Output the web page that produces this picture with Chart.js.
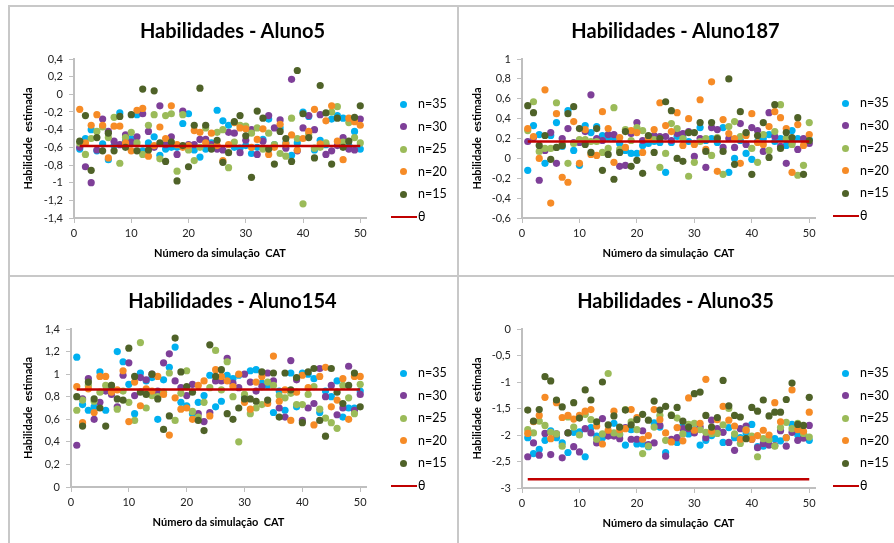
<!DOCTYPE html>
<html>
<head>
    <meta charset="utf-8">
    <title>Habilidades estimadas</title>
    <style>
        body { margin: 0; background: #fff; font-family: Lato, 'Liberation Sans', sans-serif; }
        #wrap { position: relative; width: 894px; height: 543px; overflow: hidden; background: #fff; }
        .panel { position: absolute; }
        .panel canvas { position: absolute; left: 0; top: 0; }
        .ptitle { position: absolute; left: 0; width: 100%; text-align: center; font-weight: bold; font-size: 20px; color: #000; line-height: 24px; }
        .lg { position: absolute; font-size: 12.5px; color: #000; white-space: nowrap; line-height: 14px; }
        .dot { position: absolute; width: 7px; height: 7px; border-radius: 50%; }
        .ln { position: absolute; height: 2px; }
        .sep { position: absolute; background: #c8c8c8; }
    </style>
    <script src="https://cdn.jsdelivr.net/npm/chart.js"></script>
</head>
<body>
<div id="wrap"></div>
<script>
    // simulações CAT (eixo x)
    const simulacoes = [1,2,3,4,5,6,7,8,9,10,11,12,13,14,15,16,17,18,19,20,21,22,23,24,25,
                        26,27,28,29,30,31,32,33,34,35,36,37,38,39,40,41,42,43,44,45,46,47,48,49,50];
    const xTicks = [0, 10, 20, 30, 40, 50];

    const seriesNames = ['n=35', 'n=30', 'n=25', 'n=20', 'n=15'];
    const thetaLabel = 'θ';
    const xTitle = 'Número da simulação  CAT';
    const yTitle = 'Habilidade  estimada';

    // Aluno5
    const a5_n35 = [-0.62,-0.50,-0.40,-0.64,-0.56,-0.74,-0.58,-0.21,-0.53,-0.50,-0.23,-0.64,-0.55,-0.48,-0.69,-0.62,-0.60,-0.60,-0.33,-0.22,-0.63,-0.71,-0.62,-0.55,-0.18,-0.30,-0.35,-0.60,-0.61,-0.58,-0.67,-0.60,-0.51,-0.28,-0.57,-0.38,-0.55,-0.69,-0.55,-0.20,-0.25,-0.63,-0.52,-0.57,-0.28,-0.24,-0.27,-0.58,-0.42,-0.62];
    const a5_n30 = [-0.60,-0.82,-1.00,-0.63,-0.28,-0.42,-0.53,-0.57,-0.46,-0.54,-0.48,-0.22,-0.42,-0.60,-0.13,-0.57,-0.48,-0.68,-0.19,-0.57,-0.57,-0.51,-0.51,-0.57,-0.62,-0.63,-0.43,-0.44,-0.66,-0.52,-0.40,-0.68,-0.53,-0.24,-0.38,-0.29,-0.61,0.17,-0.64,-0.38,-0.24,-0.40,-0.23,-0.68,-0.64,-0.58,-0.49,-0.62,-0.63,-0.28];
    const a5_n25 = [-0.55,-0.68,-0.50,-0.42,-0.37,-0.49,-0.26,-0.78,-0.49,-0.43,-0.55,-0.68,-0.35,-0.23,-0.73,-0.24,-0.22,-0.87,-0.23,-0.63,-0.75,-0.60,-0.38,-0.60,-0.43,-0.40,-0.83,-0.54,-0.35,-0.36,-0.44,-0.38,-0.62,-0.44,-0.57,-0.67,-0.70,-0.27,-0.50,-1.24,-0.45,-0.61,-0.60,-0.55,-0.20,-0.14,-0.54,-0.32,-0.49,-0.55];
    const a5_n20 = [-0.17,-0.55,-0.35,-0.23,-0.35,-0.72,-0.36,-0.36,-0.55,-0.64,-0.18,-0.16,-0.70,-0.58,-0.37,-0.50,-0.13,-0.57,-0.60,-0.58,-0.41,-0.43,-0.55,-0.44,-0.58,-0.75,-0.57,-0.32,-0.38,-0.39,-0.60,-0.51,-0.39,-0.68,-0.60,-0.34,-0.56,-0.46,-0.63,-0.50,-0.42,-0.17,-0.56,-0.30,-0.13,-0.53,-0.74,-0.27,-0.31,-0.35];
    const a5_n15 = [-0.53,-0.24,-0.86,-0.49,-0.64,-0.44,-0.64,-0.25,-0.60,-0.23,-0.64,0.06,-0.63,0.04,-0.55,-0.76,-0.54,-0.98,-0.58,-0.82,-0.35,0.07,-0.35,-0.62,-0.52,-0.77,-0.66,-0.31,-0.24,-0.47,-0.94,-0.19,-0.27,-0.62,-0.79,-0.42,-0.50,-0.76,0.27,-0.22,-0.49,-0.72,0.10,-0.21,-0.79,-0.27,-0.60,-0.53,-0.26,-0.13];
    const theta5 = -0.585;
    const yTicks5 = [-1.4, -1.2, -1, -0.8, -0.6, -0.4, -0.2, 0, 0.2, 0.4];

    // Aluno187
    const a187_n35 = [-0.12,0.33,0.24,-0.05,0.23,0.36,0.12,0.48,0.08,-0.07,0.33,0.26,0.32,0.23,0.21,0.21,0.15,0.08,0.05,0.05,0.13,0.15,0.17,0.16,-0.14,0.16,0.22,0.21,0.17,0.15,0.31,0.18,0.20,0.16,0.31,-0.14,0.00,0.18,0.05,-0.01,0.17,0.20,0.24,0.17,0.20,0.13,0.28,0.20,0.19,0.19];
    const a187_n30 = [0.17,0.21,-0.22,0.08,0.26,-0.05,0.20,0.30,0.16,0.16,0.27,0.64,0.20,0.18,0.24,0.24,-0.08,-0.07,0.25,0.36,0.18,0.20,0.23,0.22,0.22,0.18,0.25,0.25,0.27,0.02,0.20,-0.09,0.31,0.29,0.11,0.20,0.11,0.35,0.14,0.31,0.28,0.07,0.46,0.22,0.12,-0.05,0.16,0.09,0.20,0.15];
    const a187_n25 = [0.28,0.57,0.07,0.10,0.10,0.56,0.15,-0.05,0.15,0.19,0.19,0.17,0.17,0.06,0.10,0.51,0.09,0.29,0.18,0.31,0.28,0.21,0.19,-0.09,0.05,0.35,0.30,0.20,-0.18,-0.04,0.17,0.20,0.03,0.21,-0.16,0.32,0.37,0.22,0.25,0.10,-0.04,0.24,0.08,0.27,0.54,0.20,0.14,-0.17,-0.07,0.36];
    const a187_n20 = [0.30,0.22,0.00,0.69,-0.45,0.45,-0.19,-0.24,0.37,-0.05,0.29,0.04,0.03,0.47,0.30,-0.04,0.21,0.11,0.28,0.26,0.06,0.20,0.29,0.56,0.33,0.27,0.46,0.13,0.40,0.14,0.59,0.09,0.77,-0.13,0.39,0.25,0.20,-0.05,0.23,0.45,0.16,0.14,0.32,0.47,0.41,0.30,-0.14,0.34,0.13,0.24];
    const a187_n15 = [0.53,0.46,0.13,0.23,-0.01,0.11,0.13,0.45,0.52,0.30,0.14,0.06,0.30,-0.12,0.04,-0.21,0.06,0.27,-0.08,-0.02,-0.15,0.23,0.06,0.20,0.57,0.48,0.00,-0.03,0.26,0.26,0.36,0.07,0.36,0.20,0.07,0.80,-0.06,0.47,0.26,-0.16,0.23,0.36,0.01,0.54,0.10,0.26,0.21,0.41,-0.16,0.18];
    const theta187 = 0.17;
    const yTicks187 = [-0.6, -0.4, -0.2, 0, 0.2, 0.4, 0.6, 0.8, 1];

    // Aluno154
    const a154_n35 = [1.15,0.73,0.68,0.71,1.02,0.68,0.88,1.20,1.11,0.91,0.65,1.01,0.94,0.97,0.60,0.95,1.06,1.24,0.75,0.72,0.65,0.75,0.81,0.99,0.71,0.76,0.99,0.96,0.99,0.80,1.03,1.04,0.92,0.90,0.66,0.85,0.68,1.01,0.71,1.01,1.00,0.96,0.66,0.85,0.80,0.94,0.62,0.70,0.70,0.85];
    const a154_n30 = [0.37,0.78,0.96,0.60,0.75,0.85,0.82,0.71,0.99,1.10,0.81,0.97,0.95,1.00,0.85,1.10,1.18,0.94,0.88,0.81,0.91,0.65,0.58,0.66,0.94,0.94,1.14,0.92,0.88,1.00,0.93,0.85,0.89,1.01,0.94,0.70,0.62,1.12,0.95,0.59,0.70,0.74,1.05,0.80,0.90,0.64,0.70,1.07,0.68,0.82];
    const a154_n25 = [0.68,0.77,0.90,0.76,0.84,0.90,0.90,0.69,0.85,0.75,0.59,1.28,0.70,0.81,0.80,0.84,1.01,0.59,0.83,1.03,0.67,0.62,0.75,0.88,1.21,0.86,1.11,0.80,0.40,0.82,0.65,0.70,0.73,0.93,0.90,0.81,0.79,0.83,0.73,0.73,0.82,0.89,0.69,0.61,0.57,0.52,0.90,0.79,0.65,0.91];
    const a154_n20 = [0.89,0.57,0.87,0.66,0.98,0.98,0.84,0.86,1.03,0.58,0.93,0.72,0.87,0.85,0.98,0.82,0.46,0.79,0.69,0.70,0.60,0.90,0.94,0.63,1.04,0.98,0.94,0.89,1.00,0.75,0.69,0.93,0.98,0.74,1.16,0.76,0.86,0.59,0.84,0.99,0.88,0.55,0.98,1.06,0.71,0.77,0.96,0.60,0.98,0.98];
    const a154_n15 = [0.80,0.54,0.93,0.78,0.70,0.54,0.90,0.78,0.77,1.23,0.98,0.84,0.82,1.00,0.78,0.51,0.63,1.32,1.02,0.89,0.84,0.59,0.50,1.26,0.98,1.04,0.65,0.60,0.70,0.78,0.78,0.76,1.02,0.77,1.01,0.62,1.01,0.86,0.97,0.57,1.02,1.05,0.59,0.45,1.05,0.84,0.74,0.90,1.01,0.71];
    const theta154 = 0.865;
    const yTicks154 = [0, 0.2, 0.4, 0.6, 0.8, 1, 1.2, 1.4];

    // Aluno35
    const a35_n35 = [-2.05,-2.35,-2.27,-2.10,-1.92,-2.05,-2.15,-2.33,-1.95,-1.94,-2.41,-1.86,-2.02,-2.05,-1.95,-1.78,-2.00,-2.19,-1.90,-2.17,-2.17,-2.22,-1.77,-1.85,-2.33,-2.11,-2.14,-1.83,-1.98,-1.90,-2.19,-2.10,-2.01,-1.95,-2.14,-1.86,-2.05,-2.05,-1.96,-1.80,-2.22,-2.21,-2.10,-2.07,-2.11,-2.05,-1.80,-2.00,-1.97,-2.10];
    const a35_n30 = [-2.41,-2.15,-2.38,-1.97,-2.37,-1.98,-2.43,-1.96,-2.22,-2.32,-1.88,-1.96,-2.15,-1.69,-2.02,-2.02,-2.07,-1.86,-2.08,-2.08,-1.92,-2.18,-2.15,-1.82,-2.40,-2.08,-2.05,-1.88,-1.88,-1.96,-1.85,-2.05,-1.72,-1.88,-1.95,-2.14,-2.29,-1.88,-1.83,-2.08,-2.24,-2.16,-2.19,-2.20,-1.92,-2.21,-1.95,-2.10,-2.06,-1.82];
    const a35_n25 = [-1.90,-1.96,-1.74,-1.82,-1.95,-1.98,-2.21,-1.66,-1.85,-2.00,-1.61,-1.71,-2.08,-1.98,-0.84,-1.96,-1.98,-1.52,-1.75,-1.90,-2.35,-2.21,-1.85,-1.63,-2.10,-1.62,-1.68,-1.98,-1.80,-1.78,-1.90,-1.95,-1.97,-1.97,-1.81,-1.50,-1.98,-2.16,-1.90,-2.02,-2.41,-2.07,-2.09,-2.21,-1.86,-1.76,-1.88,-1.78,-1.97,-2.04];
    const a35_n20 = [-1.97,-1.75,-1.63,-1.29,-2.07,-1.39,-1.67,-1.63,-1.70,-1.63,-1.55,-1.52,-1.83,-2.17,-1.91,-1.55,-1.90,-1.88,-1.52,-1.67,-2.08,-2.01,-1.52,-1.71,-1.96,-2.13,-1.86,-2.11,-1.30,-1.91,-1.78,-0.95,-1.93,-1.71,-1.46,-1.72,-1.83,-2.08,-1.91,-2.08,-2.01,-1.91,-2.00,-1.39,-1.75,-2.05,-1.15,-1.90,-1.93,-1.57];
    const a35_n15 = [-1.53,-1.74,-1.52,-0.90,-0.98,-1.34,-1.47,-1.96,-1.39,-1.68,-1.15,-1.34,-1.75,-1.00,-1.81,-1.64,-1.85,-1.53,-1.81,-1.71,-1.61,-1.72,-1.36,-1.53,-1.46,-1.63,-1.48,-1.74,-1.85,-1.22,-1.19,-1.63,-1.85,-1.67,-0.97,-1.45,-1.63,-1.66,-2.07,-1.48,-1.55,-1.34,-1.64,-1.57,-1.57,-1.33,-1.02,-1.80,-1.82,-1.29];
    const theta35 = -2.835;
    const yTicks35 = [-3, -2.5, -2, -1.5, -1, -0.5, 0];

    const colors = ['#00B0F0', '#7E3F98', '#9BBB59', '#F68B26', '#4F6228'];
    const thetaColor = '#C00000';
    const fontFamily = "Lato, 'Liberation Sans', sans-serif";

    const panels = [
        { title: 'Habilidades - Aluno5', series: [a5_n35, a5_n30, a5_n25, a5_n20, a5_n15], theta: theta5, yTicks: yTicks5,
          box: { left: 8, top: 5, w: 449, h: 271 }, area: { left: 66, top: 54, right: 358, bottom: 213 },
          titleY: 13, legendX: 395, legendY: 99 },
        { title: 'Habilidades - Aluno187', series: [a187_n35, a187_n30, a187_n25, a187_n20, a187_n15], theta: theta187, yTicks: yTicks187,
          box: { left: 457, top: 5, w: 437, h: 271 }, area: { left: 65, top: 54, right: 358, bottom: 213 },
          titleY: 13, legendX: 388, legendY: 98 },
        { title: 'Habilidades - Aluno154', series: [a154_n35, a154_n30, a154_n25, a154_n20, a154_n15], theta: theta154, yTicks: yTicks154,
          box: { left: 8, top: 276, w: 449, h: 267 }, area: { left: 63, top: 53, right: 358, bottom: 211 },
          titleY: 12, legendX: 395, legendY: 97 },
        { title: 'Habilidades - Aluno35', series: [a35_n35, a35_n30, a35_n25, a35_n20, a35_n15], theta: theta35, yTicks: yTicks35,
          box: { left: 457, top: 276, w: 437, h: 267 }, area: { left: 65, top: 53, right: 358, bottom: 212 },
          titleY: 12, legendX: 388, legendY: 97 }
    ];

    const wrap = document.getElementById('wrap');

    // linhas de separação entre os gráficos
    [[8, 5, 2, 538], [457, 5, 2, 538], [8, 5, 886, 2], [8, 275, 886, 2]].forEach(function (r) {
        const d = document.createElement('div');
        d.className = 'sep';
        d.style.left = r[0] + 'px'; d.style.top = r[1] + 'px';
        d.style.width = r[2] + 'px'; d.style.height = r[3] + 'px';
        wrap.appendChild(d);
    });

    function fmtTick(v) {
        return String(Math.round(v * 10) / 10).replace('.', ',');
    }

    panels.forEach(function (p) {
        const div = document.createElement('div');
        div.className = 'panel';
        div.style.left = p.box.left + 'px';
        div.style.top = p.box.top + 'px';
        div.style.width = p.box.w + 'px';
        div.style.height = p.box.h + 'px';
        wrap.appendChild(div);

        const canvas = document.createElement('canvas');
        canvas.width = p.box.w;
        canvas.height = p.box.h;
        div.appendChild(canvas);

        const t = document.createElement('div');
        t.className = 'ptitle';
        t.style.top = p.titleY + 'px';
        t.textContent = p.title;
        div.appendChild(t);

        // legenda
        seriesNames.forEach(function (name, i) {
            const y = p.legendY + i * 22.5;
            const dot = document.createElement('div');
            dot.className = 'dot';
            dot.style.background = colors[i];
            dot.style.left = (p.legendX - 3.5) + 'px';
            dot.style.top = (y - 3.5) + 'px';
            div.appendChild(dot);
            const lab = document.createElement('div');
            lab.className = 'lg';
            lab.style.left = (p.legendX + 15) + 'px';
            lab.style.top = (y - 7) + 'px';
            lab.textContent = name;
            div.appendChild(lab);
        });
        const ty = p.legendY + 5 * 22.5;
        const ln = document.createElement('div');
        ln.className = 'ln';
        ln.style.background = thetaColor;
        ln.style.left = (p.legendX - 12) + 'px';
        ln.style.width = '26px';
        ln.style.top = (ty - 1) + 'px';
        div.appendChild(ln);
        const tl = document.createElement('div');
        tl.className = 'lg';
        tl.style.left = (p.legendX + 15) + 'px';
        tl.style.top = (ty - 7) + 'px';
        tl.textContent = thetaLabel;
        div.appendChild(tl);

        const xH = 50;
        const datasets = p.series.map(function (vals, i) {
            return {
                type: 'scatter',
                label: seriesNames[i],
                data: simulacoes.map(function (s, k) { return { x: s, y: vals[k] }; }),
                backgroundColor: colors[i],
                borderWidth: 0,
                pointRadius: 3.6,
                order: 5 - i
            };
        });
        datasets.push({
            type: 'line',
            label: thetaLabel,
            data: [{ x: simulacoes[0], y: p.theta }, { x: simulacoes[simulacoes.length - 1], y: p.theta }],
            borderColor: thetaColor,
            borderWidth: 2.5,
            pointRadius: 0,
            fill: false,
            order: 0
        });

        new Chart(canvas.getContext('2d'), {
            type: 'scatter',
            data: { datasets: datasets },
            options: {
                responsive: false,
                animation: false,
                events: [],
                layout: {
                    padding: { left: 0, top: p.area.top, right: p.box.w - p.area.right, bottom: p.box.h - p.area.bottom - xH }
                },
                plugins: { legend: { display: false }, tooltip: { enabled: false } },
                scales: {
                    x: {
                        type: 'linear',
                        min: 0,
                        max: 51,
                        afterBuildTicks: function (s) { s.ticks = xTicks.map(function (v) { return { value: v }; }); },
                        afterFit: function (s) { s.height = xH; },
                        grid: { drawOnChartArea: false, tickLength: 5, color: '#bfbfbf' },
                        border: { color: '#bfbfbf', width: 2 },
                        ticks: { autoSkip: false, maxRotation: 0, padding: 4, color: '#222', font: { family: fontFamily, size: 11 } },
                        title: { display: true, text: xTitle, color: '#000', font: { family: fontFamily, size: 11, weight: 'bold' }, padding: { top: 0, bottom: 8 } }
                    },
                    y: {
                        type: 'linear',
                        min: p.yTicks[0],
                        max: p.yTicks[p.yTicks.length - 1],
                        afterBuildTicks: function (s) { s.ticks = p.yTicks.map(function (v) { return { value: v }; }); },
                        afterFit: function (s) { s.width = p.area.left; },
                        grid: { drawOnChartArea: false, tickLength: 5, color: '#bfbfbf' },
                        border: { color: '#bfbfbf', width: 2 },
                        ticks: { autoSkip: false, padding: 6, color: '#222', font: { family: fontFamily, size: 11 }, callback: fmtTick },
                        title: { display: true, text: yTitle, color: '#000', font: { family: fontFamily, size: 11, weight: 'bold' }, padding: { top: 14, bottom: 0 } }
                    }
                }
            }
        });
    });
</script>
</body>
</html>
